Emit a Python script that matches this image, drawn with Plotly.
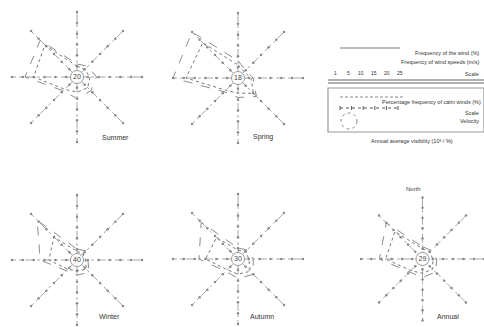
import plotly.graph_objects as go

# ---------------- data ----------------
directions = ["N", "NE", "E", "SE", "S", "SW", "W", "NW"]
dir_angles = [0, 45, 90, 135, 180, 225, 270, 315]
seasons = ["Summer", "Spring", "Winter", "Autumn", "Annual"]
calm_labels = ["20", "18", "40", "30", "29"]

wind_freq = {
    "Summer": [6, 7, 9, 9, 10, 9, 24, 24],
    "Spring": [8, 5, 7, 12, 9, 9, 30, 30],
    "Winter": [5, 6, 5, 8, 7, 7, 17, 26],
    "Autumn": [5, 6, 7, 10, 9, 8, 18, 24],
    "Annual": [6, 6, 7, 9, 9, 9, 21, 25],
}
wind_speed = {
    "Summer": [5, 5, 6, 7, 7, 8, 20, 21],
    "Spring": [6, 4, 6, 10, 7, 8, 24, 23],
    "Winter": [4, 4, 4, 6, 5, 6, 13, 15],
    "Autumn": [4, 5, 5, 8, 7, 7, 15, 14],
    "Annual": [5, 5, 5, 7, 7, 8, 18, 19],
}
ring_ticks = [5, 10, 15, 20, 25, 30]
scale_labels = ["1", "5", "10", "15", "20", "25"]
R_MAX = 30

# ---------------- layout geometry (px) ----------------
W, H = 484, 327
def px_dom(x0, x1, y0, y1):
    return dict(x=[max(0, x0 / W), min(1, x1 / W)], y=[1 - y1 / H, 1 - y0 / H])

domains = {
    "Summer": px_dom(12, 142, 12, 142),
    "Spring": px_dom(173, 303, 13, 143),
    "Winter": px_dom(12, 142, 195, 325),
    "Autumn": px_dom(173, 303, 194, 324),
    "Annual": px_dom(361, 484, 196, 322),
}

fig = go.Figure()
spoke_col = "#a8a8a8"
font = "Liberation Sans, Arial, sans-serif"

for i, s in enumerate(seasons):
    pid = "polar" if i == 0 else f"polar{i+1}"
    for a in dir_angles[:4]:
        b = a + 180
        r = ring_ticks[::-1] + [0] + ring_ticks
        th = [a] * (len(ring_ticks) + 1) + [b] * len(ring_ticks)
        fig.add_trace(go.Scatterpolar(
            r=r, theta=th, mode="lines+markers", subplot=pid,
            line=dict(color=spoke_col, width=1, dash="dashdot"),
            marker=dict(size=2.5, color="#8a8a8a"), showlegend=False, hoverinfo="skip"))
    f = wind_freq[s]
    fig.add_trace(go.Scatterpolar(
        r=f + f[:1], theta=dir_angles + dir_angles[:1], mode="lines", subplot=pid,
        line=dict(color="#8c8c8c", width=1, dash="dash"), showlegend=False))
    v = wind_speed[s]
    fig.add_trace(go.Scatterpolar(
        r=v + v[:1], theta=dir_angles + dir_angles[:1], mode="lines", subplot=pid,
        line=dict(color="#777777", width=1, dash="dot"), showlegend=False))
    fig.add_trace(go.Scatterpolar(
        r=[0], theta=[0], mode="markers+text", subplot=pid, text=[calm_labels[i]],
        textposition="middle center", textfont=dict(size=7, color="#444", family=font),
        marker=dict(size=13, color="white", line=dict(color="#999", width=1)),
        showlegend=False))
    fig.layout[pid] = dict(
        domain=domains[s], bgcolor="rgba(0,0,0,0)",
        radialaxis=dict(visible=False, range=[0, R_MAX]),
        angularaxis=dict(rotation=90, direction="clockwise", showgrid=False,
                         showline=False, showticklabels=False, ticks=""))

label_pos = {"Summer": (100, 137), "Spring": (263, 137), "Winter": (97, 322),
             "Autumn": (262, 322), "Annual": (461, 322)}
for s in seasons:
    x, y = label_pos[s]
    fig.add_annotation(x=x / W, y=1 - y / H, xref="paper", yref="paper", text=s,
                       showarrow=False, font=dict(size=7, color="#333", family=font))
fig.add_annotation(x=423 / W, y=1 - 189 / H, xref="paper", yref="paper", text="North",
                   showarrow=False, font=dict(size=6, color="#444", family=font))

# ---------------- legend panel ----------------
def P(x, y):
    return x / W, 1 - y / H

shapes = []
def line(x0, y0, x1, y1, dash="solid", width=1, color="#777"):
    a, b = P(x0, y0); c, d = P(x1, y1)
    shapes.append(dict(type="line", xref="paper", yref="paper", x0=a, y0=b, x1=c, y1=d,
                       line=dict(color=color, width=width, dash=dash)))

line(340, 48, 400, 48)
line(328, 80, 484, 80, width=1.5, color="#999")
line(328, 83, 484, 83, width=1.5, color="#999")
a, b = P(328, 88); c, d = P(484, 132)
shapes.append(dict(type="rect", xref="paper", yref="paper", x0=a, y0=b, x1=c, y1=d,
                   line=dict(color="#999", width=1.2)))
line(340, 97, 403, 97, dash="3px,2px", color="#888")
line(340, 108, 398, 108, dash="dot", color="#555")
for k in range(6):
    line(340 + k * 11.6, 106, 340 + k * 11.6, 110, color="#555")
a, b = P(341, 113); c, d = P(357, 129)
shapes.append(dict(type="circle", xref="paper", yref="paper", x0=a, y0=b, x1=c, y1=d,
                   line=dict(color="#888", width=1, dash="dot")))
fig.update_layout(shapes=shapes)

def txt(x, y, t, anchor="right", size=5.5):
    a, b = P(x, y)
    fig.add_annotation(x=a, y=b, xref="paper", yref="paper", text=t, showarrow=False,
                       xanchor=anchor, font=dict(size=size, color="#333", family=font))

txt(481, 48, "Frequency of the wind (%)")
txt(481, 57, "Frequency of wind speeds (m/s)")
txt(481, 69, "Scale")
for k, lab in enumerate(scale_labels):
    txt(335 + k * 13, 68, lab, anchor="center", size=5)
txt(483, 97, "Percentage frequency of calm winds (%)")
txt(481, 108, "Scale")
txt(481, 121, "Velocity")
txt(412, 141, "Annual average visibility (10³ / %)", anchor="center")

fig.update_layout(width=W, height=H, margin=dict(l=0, r=0, t=0, b=0),
                  paper_bgcolor="white", plot_bgcolor="white", showlegend=False)
fig.write_html("out.html", config={"displayModeBar": False},
               post_script="document.body.style.margin='0';document.body.style.padding='0';")
